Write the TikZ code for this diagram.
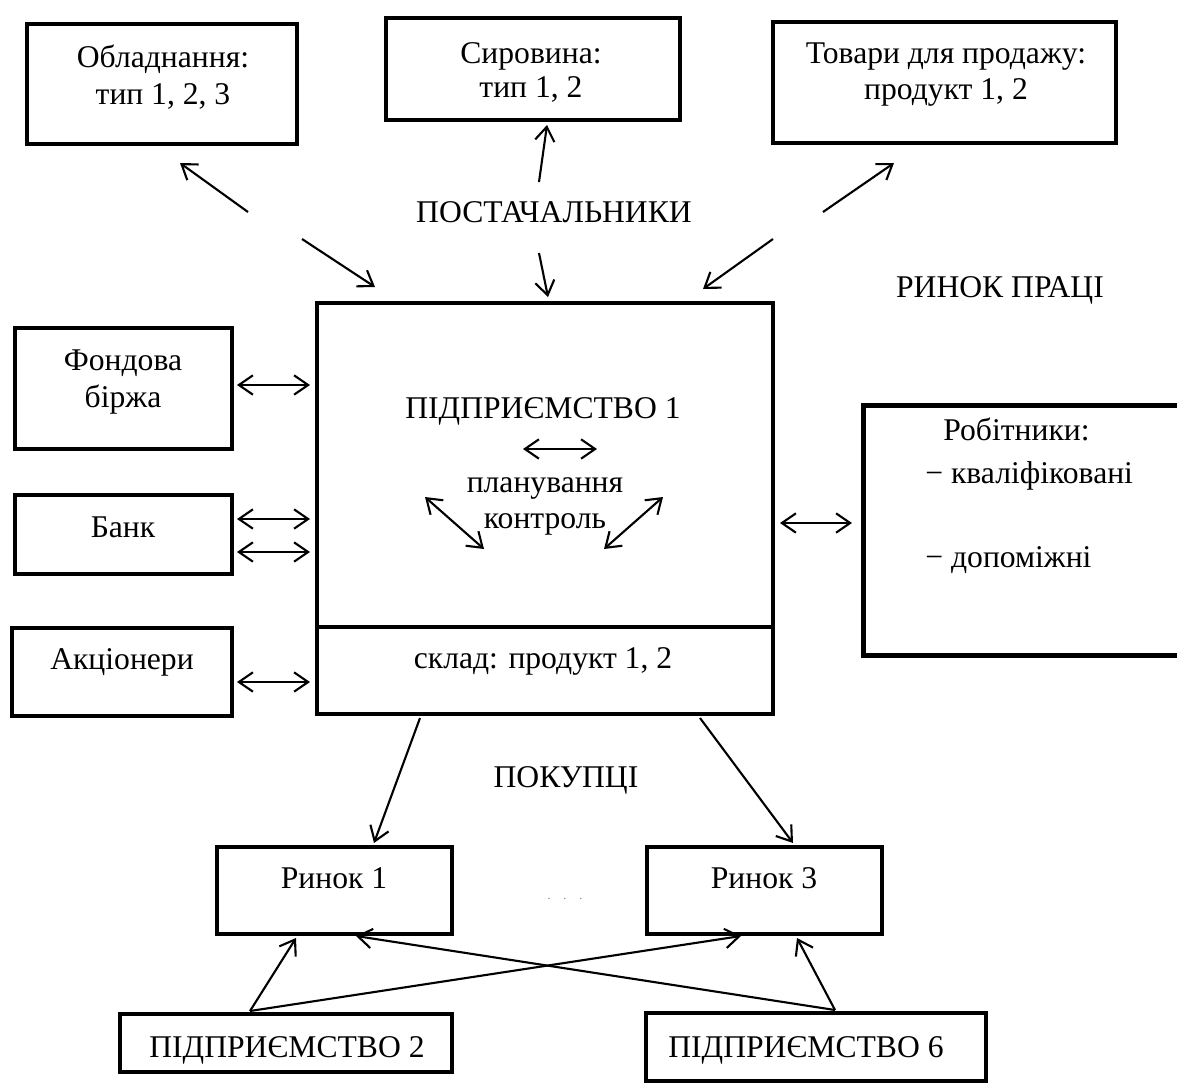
\documentclass[tikz,border=0pt]{standalone}
\usepackage{fontspec}
\setmainfont{Liberation Serif}
\usetikzlibrary{arrows.meta}
\tikzset{
  boxst/.style={draw, line width=2.7pt, inner sep=0pt},
  txt/.style={inner sep=0pt, anchor=base, font=\fontsize{18}{21}\selectfont},
  txtw/.style={txt, anchor=base west},
  arr/.style={line width=1.2pt, -{Straight Barb[length=8pt,width=11pt]}},
  darr/.style={line width=1.2pt, {Straight Barb[length=8pt,width=11pt]}-{Straight Barb[length=8pt,width=11pt]}}
}
\newcommand\mkbox[5]{\node[boxst, minimum width={(#4-#2)*0.02cm}, minimum height={(#5-#3)*0.02cm}] (#1) at ({(#2+#4)/2},{(#3+#5)/2}) {};}
\begin{document}
\begin{tikzpicture}[x=0.02cm, y=-0.02cm]
\useasboundingbox (0,0) rectangle (1177,1086);
% boxes
\mkbox{obl}{27}{24}{297}{144}
\mkbox{syr}{386}{18}{680}{120}
\mkbox{tov}{773}{22}{1116}{143}
\mkbox{main}{317}{303}{773}{627}
\mkbox{sklad}{317}{627}{773}{714}
\mkbox{fond}{15}{328}{232}{449}
\mkbox{bank}{15}{495}{232}{574}
\mkbox{akc}{12}{628}{232}{716}
\mkbox{r1}{217}{847}{452}{934}
\mkbox{r3}{647}{847}{882}{934}
\mkbox{p2}{120}{1014}{452}{1072}
\mkbox{p6}{646}{1013}{986}{1081}
% workers box, open to the right edge
\node[inner sep=0pt, minimum width={(1177-864)*0.02cm}, minimum height={(655-406)*0.02cm}] (work) at ({(864+1177)/2},{(406+655)/2}) {};
\draw[line width=2.7pt] (work.north east) -- (work.north west) -- (work.south west) -- (work.south east);
% texts
\node[txt] (t1a) at (163,67) {Обладнання:};
\node[txt] (t1b) at (163,104) {тип 1, 2, 3};
\node[txt] (t2a) at (531,63) {Сировина:};
\node[txt] (t2b) at (531,97) {тип 1, 2};
\node[txt] (t3a) at (946,63) {Товари для продажу:};
\node[txt] (t3b) at (946,99) {продукт 1, 2};
\node[txt] (post) at (554,222) {ПОСТАЧАЛЬНИКИ};
\node[txt] (rp) at (1000,297) {РИНОК ПРАЦІ};
\node[txt] (tf1) at (123,370) {Фондова};
\node[txt] (tf2) at (123,407) {біржа};
\node[txt] (tb) at (123,537) {Банк};
\node[txt] (ta) at (122,669) {Акціонери};
\node[txt] (tm) at (543,418) {ПІДПРИЄМСТВО 1};
\node[txt] (tpl) at (545,492) {планування};
\node[txt] (tko) at (545,528) {контроль};
\node[txt] (tsk) at (543,668) {склад: продукт 1, 2};
\node[txtw] (tw1) at (943,440) {Робітники:};
\node[txtw] (tw2) at (925,483) {− кваліфіковані};
\node[txtw] (tw3) at (925,567) {− допоміжні};
\node[txt] (pok) at (566,787) {ПОКУПЦІ};
\node[txt] (tr1) at (334,888) {Ринок 1};
\node[txt] (tr3) at (764,888) {Ринок 3};
\node[inner sep=0pt, anchor=base, text=gray, font=\fontsize{7}{7}\selectfont] (dots) at (565,899) {.\hspace{7.3pt}.\hspace{7.3pt}.};
\node[txt] (tp2) at (287,1057) {ПІДПРИЄМСТВО 2};
\node[txt] (tp6) at (806,1057) {ПІДПРИЄМСТВО 6};
% coordinates for free arrow ends
\coordinate (a1s) at (248,212); \coordinate (a1e) at (180,163);
\coordinate (a2s) at (302,239); \coordinate (a2e) at (375,287);
\coordinate (b1s) at (539,182); \coordinate (b1e) at (547,125);
\coordinate (b2s) at (539,253); \coordinate (b2e) at (548,297);
\coordinate (c1s) at (823,212); \coordinate (c1e) at (894,163);
\coordinate (c2s) at (773,239); \coordinate (c2e) at (703,289);
\coordinate (f1) at (237,385); \coordinate (f2) at (310,385);
\coordinate (k1) at (237,519); \coordinate (k2) at (310,519);
\coordinate (k3) at (237,552); \coordinate (k4) at (310,552);
\coordinate (s1) at (237,682); \coordinate (s2) at (310,682);
\coordinate (w1) at (780,523); \coordinate (w2) at (852,523);
\coordinate (i1) at (523,449); \coordinate (i2) at (597,449);
\coordinate (i3) at (425,497); \coordinate (i4) at (484,549);
\coordinate (i5) at (663,497); \coordinate (i6) at (604,549);
\coordinate (m1) at (420,718); \coordinate (m1e) at (374,843);
\coordinate (m2) at (700,718); \coordinate (m2e) at (793,843);
\coordinate (q1) at (250,1011); \coordinate (q1e) at (296,938);
\coordinate (q2e) at (741,936);
\coordinate (q3) at (835,1010); \coordinate (q3e) at (797,938);
\coordinate (q4e) at (356,936);
% arrows
\draw[arr] (a1s) -- (a1e);
\draw[arr] (a2s) -- (a2e);
\draw[arr] (b1s) -- (b1e);
\draw[arr] (b2s) -- (b2e);
\draw[arr] (c1s) -- (c1e);
\draw[arr] (c2s) -- (c2e);
\draw[darr] (f1) -- (f2);
\draw[darr] (k1) -- (k2);
\draw[darr] (k3) -- (k4);
\draw[darr] (s1) -- (s2);
\draw[darr] (w1) -- (w2);
\draw[darr] (i1) -- (i2);
\draw[darr] (i3) -- (i4);
\draw[darr] (i5) -- (i6);
\draw[arr] (m1) -- (m1e);
\draw[arr] (m2) -- (m2e);
\draw[arr] (q1) -- (q1e);
\draw[arr] (q1) -- (q2e);
\draw[arr] (q3) -- (q3e);
\draw[arr] (q3) -- (q4e);
\end{tikzpicture}
\end{document}
